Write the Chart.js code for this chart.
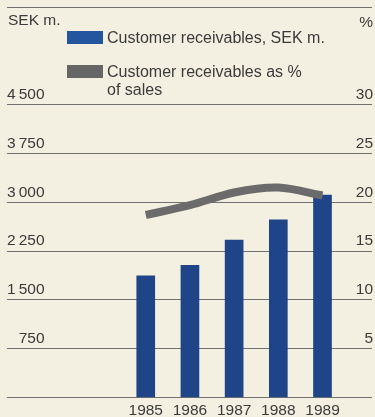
<!DOCTYPE html>
<html>
<head>
<meta charset="utf-8">
<script src="https://cdn.jsdelivr.net/npm/chart.js@4"></script>
<style>
  html, body { margin: 0; padding: 0; background: #f3efe1; }
  #wrap { width: 375px; height: 417px; position: relative; }
</style>
</head>
<body>
<div id="wrap"><canvas id="receivables"></canvas></div>
<script>
// Customer receivables 1985-1989
const YEARS = [1985, 1986, 1987, 1988, 1989];
const RECEIVABLES_SEK = [1870, 2030, 2420, 2730, 3110];
const PCT_OF_SALES = [18.7, 19.7, 21.0, 21.5, 20.7];

// labelled ticks on each side
const SEK_TICKS = [750, 1500, 2250, 3000, 3750, 4500];
const PCT_TICKS = [5, 10, 15, 20, 25, 30];

const BAR_LABEL = 'Customer receivables, SEK m.';
const LINE_LABEL = 'Customer receivables as %\nof sales';

const FONT = '"Liberation Sans", Arial, Helvetica, sans-serif';
const TEXT = '#3b3b3b';
const GRID = '#707070';
const BLUE = '#1f4588';
const GREY = '#6b6b6b';

function fmtThousands(v) {
    const s = String(v);
    return s.length > 3 ? s.slice(0, -3) + '\u2009' + s.slice(-3) : s;
}

// unit captions and the two-row key above the plot
const keyPlugin = {
    id: 'keyPlugin',
    afterDraw(chart) {
        const ctx = chart.ctx;
        ctx.save();
        ctx.fillStyle = TEXT;
        ctx.font = '15.5px ' + FONT;
        ctx.textBaseline = 'middle';
        ctx.textAlign = 'left';
        ctx.fillText('SEK m.', 8, 21);
        ctx.textAlign = 'right';
        ctx.fillText('%', 373, 23);

        const rows = [
            { color: '#2456a0', y: 37, text: chart.data.datasets[1].label },
            { color: '#666666', y: 71, text: chart.data.datasets[0].label }
        ];
        ctx.font = '16px ' + FONT;
        ctx.textAlign = 'left';
        rows.forEach(r => {
            ctx.fillStyle = r.color;
            ctx.fillRect(67, r.y - 6, 36, 13);
            ctx.fillStyle = TEXT;
            r.text.split('\n').forEach((line, i) => {
                ctx.fillText(line, 107, r.y + 2 + i * 18);
            });
        });
        ctx.restore();
    }
};

const ctx = document.getElementById('receivables').getContext('2d');

new Chart(ctx, {
    type: 'bar',
    data: {
        datasets: [
            {
                type: 'line',
                label: LINE_LABEL,
                data: YEARS.map((y, i) => ({ x: y, y: PCT_OF_SALES[i] })),
                yAxisID: 'y1',
                borderColor: GREY,
                borderWidth: 8,
                borderCapStyle: 'butt',
                tension: 0.3,
                pointRadius: 0,
                fill: false,
                order: 0
            },
            {
                type: 'bar',
                label: BAR_LABEL,
                data: YEARS.map((y, i) => ({ x: y, y: RECEIVABLES_SEK[i] })),
                yAxisID: 'y',
                backgroundColor: BLUE,
                barThickness: 18,
                order: 1
            }
        ]
    },
    options: {
        responsive: true,
        maintainAspectRatio: false,
        animation: false,
        layout: { padding: { left: 7, right: 1, top: 7, bottom: 0 } },
        plugins: {
            legend: { display: false },
            tooltip: { enabled: false }
        },
        scales: {
            x: {
                type: 'linear',
                offset: false,
                min: 1981.86,
                max: 1990.12,
                grid: { display: false, drawTicks: false, offset: false },
                border: { display: false },
                afterBuildTicks: s => { s.ticks = YEARS.map(v => ({ value: v })); },
                afterFit: s => { s.height = 19.5; },
                ticks: {
                    padding: 5,
                    autoSkip: false,
                    maxRotation: 0,
                    color: TEXT,
                    font: { family: FONT, size: 15.5, lineHeight: 1 },
                    callback: v => String(v)
                }
            },
            y: {
                position: 'left',
                min: 0,
                max: 6000,
                border: { display: false },
                grid: {
                    drawTicks: false,
                    lineWidth: 1,
                    color: c => (c.tick && c.tick.value === 5250) ? 'rgba(0,0,0,0)' : GRID
                },
                afterBuildTicks: s => {
                    const vals = [];
                    for (let v = 0; v <= 6000; v += 750) vals.push({ value: v });
                    s.ticks = vals;
                },
                afterFit: s => { s.paddingTop = 0; s.paddingBottom = 0; },
                ticks: {
                    mirror: true,
                    crossAlign: 'far',
                    padding: 0,
                    labelOffset: -10,
                    color: TEXT,
                    font: { family: FONT, size: 15.5, lineHeight: 1 },
                    callback: v => SEK_TICKS.includes(v) ? fmtThousands(v) : ''
                }
            },
            y1: {
                position: 'right',
                min: 0,
                max: 40,
                border: { display: false },
                grid: { display: false, drawTicks: false },
                afterBuildTicks: s => {
                    const vals = [];
                    for (let v = 0; v <= 40; v += 5) vals.push({ value: v });
                    s.ticks = vals;
                },
                afterFit: s => { s.paddingTop = 0; s.paddingBottom = 0; },
                ticks: {
                    mirror: true,
                    padding: 1,
                    labelOffset: -10,
                    color: TEXT,
                    font: { family: FONT, size: 15.5, lineHeight: 1 },
                    callback: v => PCT_TICKS.includes(v) ? String(v) : ''
                }
            }
        }
    },
    plugins: [keyPlugin]
});
</script>
</body>
</html>
